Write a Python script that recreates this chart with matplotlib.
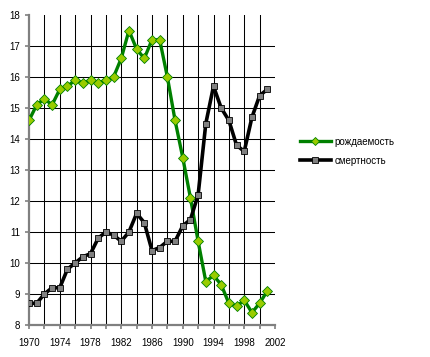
import numpy as np
import matplotlib
matplotlib.use("Agg")
import matplotlib.pyplot as plt
from matplotlib.ticker import FixedLocator, MultipleLocator

years = list(range(1970, 2002))
birth = [14.6, 15.1, 15.3, 15.1, 15.6, 15.7, 15.9, 15.8, 15.9, 15.8,
         15.9, 16.0, 16.6, 17.5, 16.9, 16.6, 17.2, 17.2, 16.0, 14.6,
         13.4, 12.1, 10.7, 9.4, 9.6, 9.3, 8.7, 8.6, 8.8, 8.4,
         8.7, 9.1]
death = [8.7, 8.7, 9.0, 9.2, 9.2, 9.8, 10.0, 10.2, 10.3, 10.8,
         11.0, 10.9, 10.7, 11.0, 11.6, 11.3, 10.4, 10.5, 10.7, 10.7,
         11.2, 11.4, 12.2, 14.5, 15.7, 15.0, 14.6, 13.8, 13.6, 14.7,
         15.4, 15.6]
labels = ["рождаемость", "смертность"]
xticks = list(range(1970, 2003, 4))

plt.rcParams['font.family'] = ['Liberation Sans', 'DejaVu Sans']

fig = plt.figure(figsize=(4.3, 3.57), dpi=100)
ax = fig.add_axes([29/430, 32/357, 246/430, 310/357])

# grid lines drawn by hand so they stop inside the plot area
for x in range(1972, 2002, 2):
    ax.axvline(x, color='black', lw=0.75, zorder=1)
for y in range(9, 18):
    ax.axhline(y, color='black', lw=0.75, zorder=1)

ax.plot(years, birth, color='#008000', lw=2.4, marker='D', markersize=5,
        markerfacecolor='#99CC00', markeredgecolor='#008000', markeredgewidth=0.6,
        label=labels[0], zorder=3)
ax.plot(years, death, color='black', lw=2.6, marker='s', markersize=4.8,
        markerfacecolor='#808080', markeredgecolor='black', markeredgewidth=0.6,
        label=labels[1], zorder=3)

ax.set_xlim(1970, 2002)
ax.set_ylim(8, 18)
ax.xaxis.set_major_locator(FixedLocator(xticks))
ax.xaxis.set_minor_locator(MultipleLocator(2))
ax.yaxis.set_major_locator(MultipleLocator(1))

for s in ['top', 'right']:
    ax.spines[s].set_visible(False)
for s in ['left', 'bottom']:
    ax.spines[s].set_color('#808080')
    ax.spines[s].set_linewidth(1.6)

ax.tick_params(axis='both', which='both', direction='out', color='#808080',
               width=1.2, labelsize=7)
ax.tick_params(which='major', length=3)
ax.tick_params(which='minor', length=3)
ax.tick_params(axis='x', pad=6)

leg = fig.legend(loc='upper left', bbox_to_anchor=(296/430, 1 - 133/357), frameon=False,
                 fontsize=7, handlelength=3.2, handletextpad=0.4, labelspacing=0.9,
                 borderaxespad=0, markerscale=0.8)

fig.savefig('out.png', dpi=100)
